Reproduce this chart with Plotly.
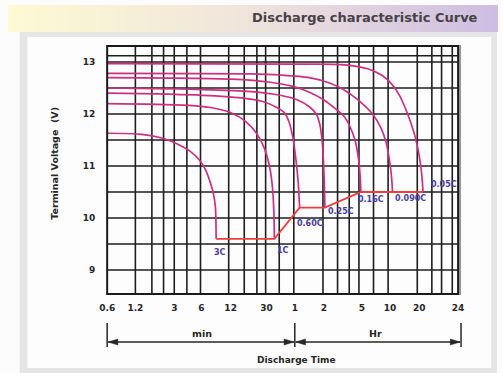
import numpy as np
import plotly.graph_objects as go

W, H = 503, 373

# Printed time scale (minutes): log-like but hand spaced on the sheet
SCALE_MIN = [0.6, 1.2, 3, 6, 12, 30, 60, 120, 300, 600, 1200, 1440]
SCALE_POS = [0, 29, 69, 97, 127, 164, 193, 223, 262, 291, 321, 361]
TICK_TEXT = ["0.6", "1.2", "3", "6", "12", "30", "1", "2", "5", "10", "20", "24"]
VOLT_TICKS = [9, 10, 11, 12, 13]

# Discharge curves: time in minutes, terminal voltage in volts
RATES = ["3C", "1C", "0.60C", "0.25C", "0.16C", "0.090C", "0.05C"]

T_3C = [0.6, 1.38, 2.33, 3.46, 4.43, 5.67, 6.63, 7.44, 7.9, 8.35, 8.5]
V_3C = [11.63, 11.61, 11.53, 11.40, 11.29, 11.12, 10.92, 10.67, 10.5, 10.22, 9.6]

T_1C = [0.6, 3.75, 7.73, 12.3, 17.8, 23.4, 28.5, 32.2, 34.6, 35.9, 36.3]
V_1C = [12.2, 12.17, 12.12, 12.02, 11.85, 11.62, 11.33, 11.0, 10.6, 10.1, 9.6]

T_060C = [0.6, 6.14, 15.8, 27.2, 38.1, 46.1, 52.0, 57.2, 61.4, 65.0, 67.3]
V_060C = [12.4, 12.36, 12.31, 12.24, 12.13, 12.03, 11.85, 11.55, 11.15, 10.7, 10.2]

T_025C = [0.6, 6.14, 20.2, 41.9, 64.3, 84.9, 99.8, 109.4, 114.6, 118.6, 121.4, 122.9]
V_025C = [12.5, 12.47, 12.43, 12.36, 12.27, 12.14, 12.0, 11.78, 11.5, 11.1, 10.6, 10.2]

T_016C = [0.6, 12.3, 33.0, 57.2, 84.9, 120, 159, 192, 226, 254, 276, 288, 293]
V_016C = [12.7, 12.67, 12.61, 12.53, 12.42, 12.27, 12.1, 11.97, 11.75, 11.5, 11.15, 10.8, 10.5]

T_009C = [0.6, 20.2, 41.9, 84.9, 135, 192, 273, 390, 484, 545, 593, 621, 636]
V_009C = [12.78, 12.77, 12.75, 12.7, 12.6, 12.47, 12.27, 12.0, 11.72, 11.45, 11.1, 10.8, 10.5]

T_005C = [0.6, 67.3, 183, 346, 496, 628, 756, 868, 975, 1094, 1200, 1214, 1222]
V_005C = [12.97, 12.96, 12.95, 12.87, 12.74, 12.57, 12.35, 12.1, 11.85, 11.55, 11.2, 10.85, 10.5]

CURVES = [(T_3C, V_3C), (T_1C, V_1C), (T_060C, V_060C), (T_025C, V_025C),
          (T_016C, V_016C), (T_009C, V_009C), (T_005C, V_005C)]

# ---------------------------------------------------------------- styling
PINK = "#cf2f83"
RED = "#f03c3c"
GRID = "#1e1e1e"
LABEL_BLUE = "#4a3c9c"
FONT = "DejaVu Sans, Verdana, sans-serif"
INK = "#262626"

# plot area in pixels
PX0, PX1, PY0, PY1 = 102, 463, 46, 294
V_PER_PX = 1 / 52.0
Y_LO = 9 - (PY1 - 270) * V_PER_PX
Y_HI = 13 + (62 - PY0) * V_PER_PX

# label offsets from the end of each curve (pixels: right, down)
LABEL_SHIFT = [(-4, 14), (1, 12), (-5, 16), (1, 4), (-5, 7), (0, 6), (6, -8)]

# vertical rulings of the printed grid, in scale units
GRID_X = [29, 46, 58, 69, 82, 96, 125, 141, 154, 163, 177, 192, 222, 237, 249,
          259, 274, 289, 319, 334, 344, 355]
GRID_Y = [9, 9.5, 10, 10.5, 11, 11.5, 12, 12.5, 13, 13.12]


def tpos(t):
    """Map minutes onto the printed time scale."""
    return np.interp(np.log(np.asarray(t, float)), np.log(SCALE_MIN), SCALE_POS)


def px(x):
    return x / W


def py(y):
    return 1 - y / H


fig = go.Figure()

for t, v in CURVES:
    fig.add_trace(go.Scatter(
        x=tpos(t), y=v, mode="lines", hoverinfo="skip",
        line=dict(color=PINK, width=1.7, shape="spline", smoothing=0.8)))

# end-of-discharge voltage line joins the curve end points
end_t = [c[0][-1] for c in CURVES]
end_v = [c[1][-1] for c in CURVES]
fig.add_trace(go.Scatter(x=tpos(end_t), y=end_v, mode="lines", hoverinfo="skip",
                         line=dict(color=RED, width=1.8)))

shapes = []

# page background: gradient banner, grey frame, white panel
n_strip = 120
c_stops = [(0.0, (253, 250, 212)), (0.5, (239, 228, 220)), (1.0, (205, 189, 226))]
for i in range(n_strip):
    f = (i + 0.5) / n_strip
    for (f0, c0), (f1, c1) in zip(c_stops[:-1], c_stops[1:]):
        if f0 <= f <= f1:
            k = (f - f0) / (f1 - f0)
            col = tuple(int(round(a + (b - a) * k)) for a, b in zip(c0, c1))
    shapes.append(dict(type="rect", xref="paper", yref="paper", layer="below",
                       x0=i / n_strip, x1=(i + 1) / n_strip + 0.002,
                       y0=py(32), y1=py(5), line_width=0,
                       fillcolor="rgb(%d,%d,%d)" % col))
shapes.append(dict(type="rect", xref="paper", yref="paper", layer="below",
                   x0=px(12), x1=1, y0=0, y1=py(32), line_width=0,
                   fillcolor="#e5e5e5"))
shapes.append(dict(type="rect", xref="paper", yref="paper", layer="below",
                   x0=px(20), x1=px(497), y0=py(368), y1=py(37), line_width=0,
                   fillcolor="#fdfdfd"))

# grid
for gx in GRID_X:
    shapes.append(dict(type="line", xref="x", yref="y domain", layer="below",
                       x0=gx, x1=gx, y0=0, y1=1, line=dict(color=GRID, width=1.6)))
for gy in GRID_Y:
    shapes.append(dict(type="line", xref="x domain", yref="y", layer="below",
                       x0=0, x1=1, y0=gy, y1=gy, line=dict(color=GRID, width=1.6)))

# plot frame with a soft shadow on the right
shapes.append(dict(type="line", xref="paper", yref="paper", layer="below",
                   x0=px(PX1 + 2), x1=px(PX1 + 2), y0=py(PY1 + 1), y1=py(PY0 - 1),
                   line=dict(color="#9a9a9a", width=2)))
shapes.append(dict(type="rect", xref="x domain", yref="y domain", layer="above",
                   x0=0, x1=1, y0=0, y1=1, line=dict(color="#1a1a1a", width=2)))


# min / Hr span markers under the time axis
def xpix(t):
    return PX0 + float(tpos([t])[0]) * (PX1 - PX0) / SCALE_POS[-1]


bar_x = [xpix(0.6), xpix(60), xpix(1440) + 3]
for bx in bar_x:
    shapes.append(dict(type="line", xref="paper", yref="paper",
                       x0=px(bx), x1=px(bx), y0=py(323), y1=py(347),
                       line=dict(color=INK, width=1.5)))
AY = 342
for a, b in zip(bar_x[:-1], bar_x[1:]):
    shapes.append(dict(type="line", xref="paper", yref="paper",
                       x0=px(a + 1), x1=px(b - 1), y0=py(AY), y1=py(AY),
                       line=dict(color=INK, width=1.5)))
    for tip, d in ((a + 1, 1), (b - 1, -1)):
        path = "M %f %f L %f %f L %f %f Z" % (
            px(tip), py(AY), px(tip + 10 * d), py(AY - 3), px(tip + 10 * d), py(AY + 3))
        shapes.append(dict(type="path", xref="paper", yref="paper", path=path,
                           fillcolor=INK, line=dict(color=INK, width=0.5)))


def note(text, x, y, size, **kw):
    d = dict(text="<b>%s</b>" % text, x=px(x), y=py(y), xref="paper", yref="paper",
             xanchor="center", yanchor="middle", showarrow=False,
             font=dict(family=FONT, size=size, color=INK))
    d.update(kw)
    return d


annotations = [
    note("Discharge characteristic Curve", 486, 17, 13, xanchor="right",
         font=dict(family=FONT, size=13, color="#474247")),
    note("min", 200, 333, 9.5),
    note("Hr", 378, 333, 9.5),
    note("Discharge Time", 297, 360, 9),
    note("Terminal Voltage  (V)", 47, 163, 9.5, textangle=-90),
]

for name, (t, v), (dx, dy) in zip(RATES, CURVES, LABEL_SHIFT):
    annotations.append(dict(
        text="<b>%s</b>" % name, x=float(tpos([t[-1]])[0]), y=v[-1],
        xref="x", yref="y", xanchor="left", yanchor="middle",
        xshift=dx, yshift=-dy, showarrow=False,
        font=dict(family=FONT, size=8, color=LABEL_BLUE)))

fig.update_layout(
    width=W, height=H, margin=dict(l=0, r=0, t=0, b=0),
    paper_bgcolor="#fcfcfc", plot_bgcolor="white", showlegend=False,
    shapes=shapes, annotations=annotations,
    xaxis=dict(range=[-0.02, SCALE_POS[-1] + 0.02], domain=[px(PX0), px(PX1)],
               tickvals=tpos(SCALE_MIN), ticktext=TICK_TEXT, ticks="",
               showgrid=False, zeroline=False, showline=False, fixedrange=True,
               ticklabelstandoff=7,
               tickfont=dict(family=FONT, size=9, color=INK, weight="bold")),
    yaxis=dict(range=[Y_LO, Y_HI], domain=[py(PY1), py(PY0)],
               tickvals=VOLT_TICKS, ticks="", showgrid=False, zeroline=False,
               showline=False, fixedrange=True, ticklabelstandoff=11,
               tickfont=dict(family=FONT, size=9, color=INK, weight="bold")),
)

fig.write_html("out.html")
